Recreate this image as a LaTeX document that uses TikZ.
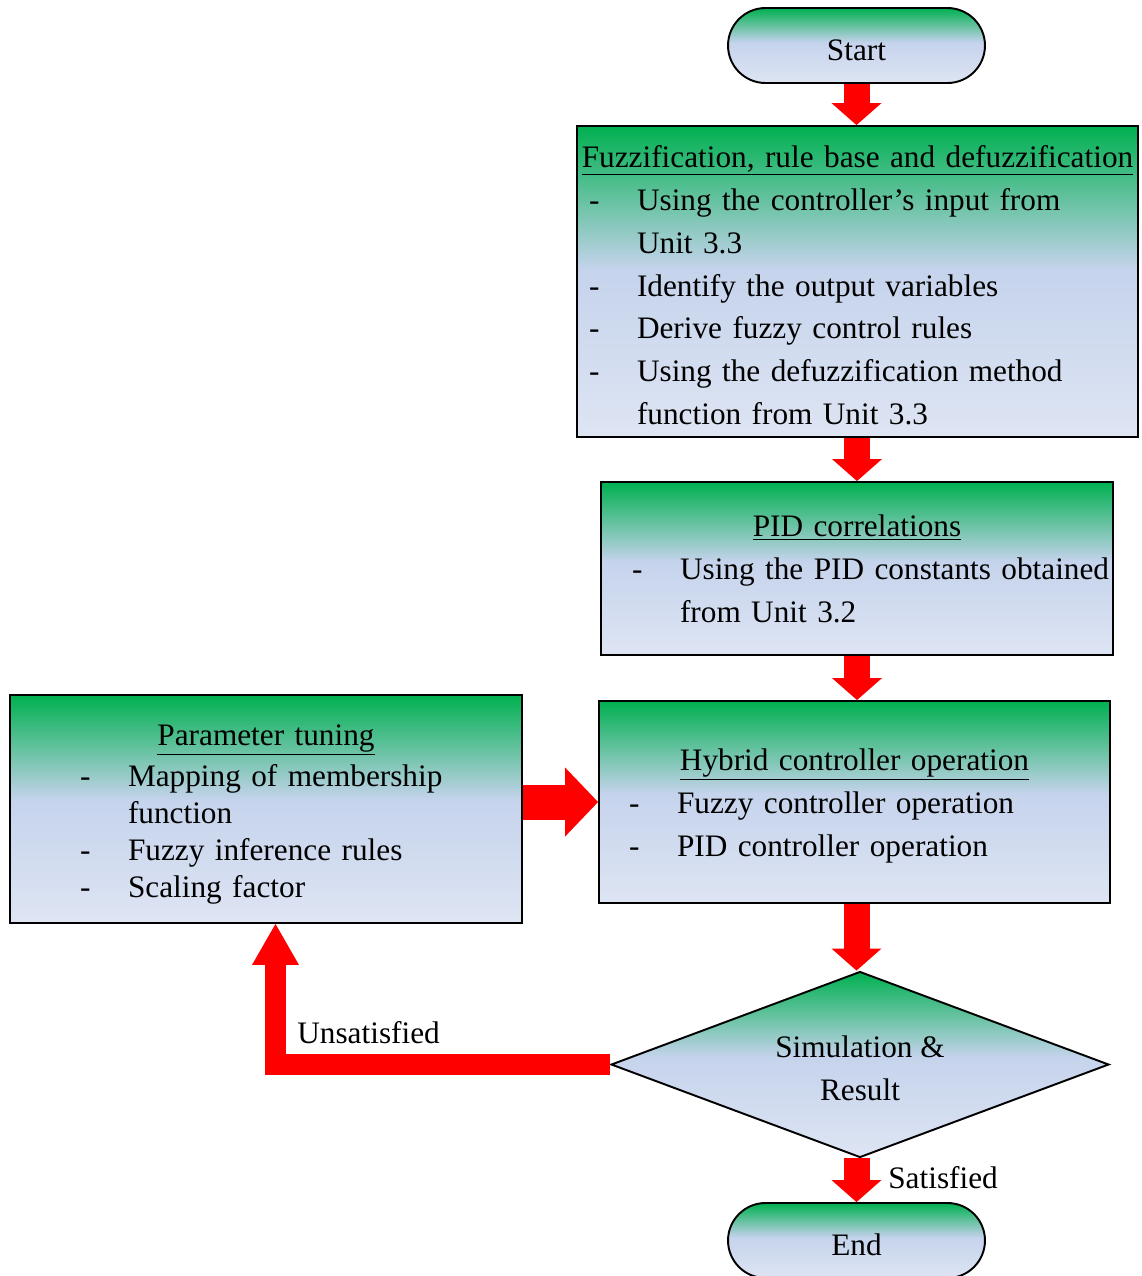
\documentclass[tikz,border=0pt]{standalone}
\usepackage{fontspec}
\setmainfont{Liberation Serif}
\usetikzlibrary{shapes.geometric,arrows.meta}

\definecolor{boxgreen}{RGB}{0,176,80}
\definecolor{boxblue}{RGB}{197,211,236}
\definecolor{boxlite}{RGB}{222,229,243}
\pgfdeclareverticalshading{boxshade}{100bp}{color(0bp)=(boxlite); color(25bp)=(boxlite); color(52bp)=(boxblue); color(75bp)=(boxgreen); color(100bp)=(boxgreen)}

\newlength{\dashw}
\setlength{\dashw}{0.96cm}
\newcommand{\boxtitle}[2][0.59cm]{\centerline{\rule{0pt}{#1}\underline{#2}}}
\newcommand{\dashitem}[1]{\noindent\makebox[\dashw][l]{-}\mbox{#1}\par}
\newcommand{\moreline}[1]{\noindent\hspace*{\dashw}\mbox{#1}\par}

\tikzset{
  flowbox/.style={draw=black, line width=1.1pt, shade, shading=boxshade, inner ysep=0pt,
    font=\fontsize{17.8}{24.4}\selectfont},
  terminal/.style={flowbox, rounded corners=0.75cm, minimum width=5.14cm, minimum height=1.5cm,
    text height=0.58cm, text depth=0cm},
  decision/.style={flowbox, diamond, shape aspect=2.68, align=center, inner sep=0pt,
    minimum width=9.96cm, minimum height=3.72cm},
  downarrow/.style={red, line width=0.52cm, -{Triangle[width=1cm,length=0.44cm,line width=0pt]}},
  sidearrow/.style={red, line width=0.7cm, -{Triangle[width=1.38cm,length=0.66cm,line width=0pt]}},
  backarrow/.style={red, line width=0.42cm, line join=miter, -{Triangle[width=0.94cm,length=0.82cm,line width=0pt]}},
  tag/.style={font=\fontsize{17.8}{24.4}\selectfont, inner sep=0pt, anchor=west}
}

\begin{document}
\begin{tikzpicture}[x=0.02cm,y=-0.02cm]
\useasboundingbox (0,0) rectangle (1142,1276);

\node[terminal] (start) at (856.5,45.5) {Start};

\node[flowbox, minimum width=11.22cm, minimum height=6.22cm, inner xsep=0.24cm, text width=10.74cm]
  (fuzzy) at (857.5,281.5) {%
  \boxtitle{Fuzzification, rule base and defuzzification}
  \dashitem{Using the controller’s input from}
  \moreline{Unit 3.3}
  \dashitem{Identify the output variables}
  \dashitem{Derive fuzzy control rules}
  \dashitem{Using the defuzzification method}
  \moreline{function from Unit 3.3}};

\node[flowbox, minimum width=10.24cm, minimum height=3.46cm, inner xsep=0.62cm, text width=9cm]
  (pid) at (857,568.5) {%
  \boxtitle[0pt]{PID correlations}
  \dashitem{Using the PID constants obtained}
  \moreline{from Unit 3.2}};

\node[flowbox, minimum width=10.22cm, minimum height=4.04cm, inner xsep=0.6cm, text width=9.02cm]
  (hybrid) at (854.5,802) {%
  \boxtitle{Hybrid controller operation}
  \dashitem{Fuzzy controller operation}
  \dashitem{PID controller operation}};

\node[flowbox, minimum width=10.24cm, minimum height=4.56cm, inner xsep=1.4cm, text width=7.44cm,
  font=\fontsize{17.8}{21}\selectfont]
  (tune) at (266,809) {%
  \boxtitle[0.63cm]{Parameter tuning}
  \vskip 0.1cm
  \dashitem{Mapping of membership}
  \moreline{function}
  \dashitem{Fuzzy inference rules}
  \dashitem{Scaling factor}};

\node[decision] (sim) at (860,1064.5) {\rule{0pt}{0.59cm}Simulation \&\\Result};

\node[terminal] (end) at (856.5,1240.5) {End};

\draw[downarrow] (start.south) -- (start.south |- fuzzy.north);
\draw[downarrow] (fuzzy.south -| pid.north) -- (pid.north);
\draw[downarrow] (pid.south) -- (pid.south |- hybrid.north);
\draw[downarrow] (hybrid.south -| start.south) -- (sim.north -| start.south);
\draw[downarrow] (sim.south -| start.south) -- (end.north -| start.south);
\draw[sidearrow] (hybrid.west -| tune.east) -- (hybrid.west);
\draw[backarrow] (sim.west) -| ([xshift=0.19cm]tune.south);

\node[tag] (unsat) at (297,1033) {Unsatisfied};
\node[tag] (sat) at (888,1178) {Satisfied};
\end{tikzpicture}
\end{document}
